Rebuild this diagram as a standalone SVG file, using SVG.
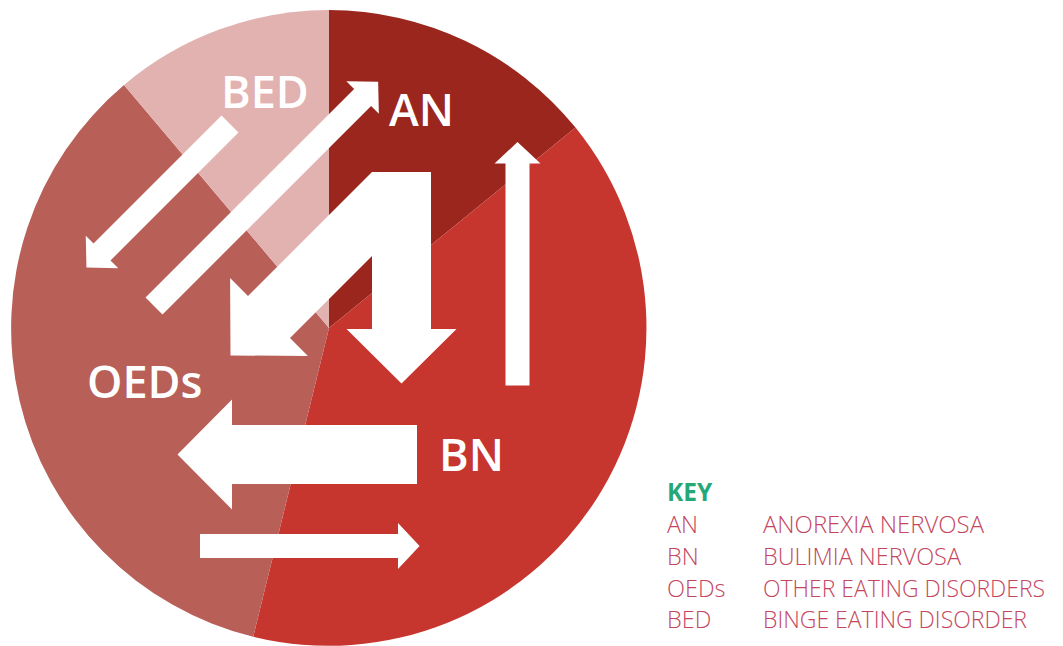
<svg xmlns="http://www.w3.org/2000/svg" width="1063" height="646" viewBox="0 0 1063 646">
<style>
.lbl{font-family:"Open Sans","Liberation Sans",sans-serif;font-weight:600;font-size:45px;fill:#fff}
.key{font-family:"Open Sans","Liberation Sans",sans-serif;font-weight:300;font-size:23.5px;fill:#C4465E}
.keyh{font-family:"Open Sans","Liberation Sans",sans-serif;font-weight:700;font-size:24.5px;fill:#25A878}
.arr{fill:#fff}
</style>
<rect width="1063" height="646" fill="#fff"/>
<g id="AN">
<path d="M329,328 L329,10 A318,318 0 0 1 575.5,127.6 Z" fill="#9A261E"/>
</g>
<g id="BN">
<path d="M329,328 L575.5,127.6 A318,318 0 0 1 253.2,636.8 Z" fill="#C7352F"/>
</g>
<g id="OEDs">
<path d="M329,328 L253.2,636.8 A318,318 0 0 1 124,85 Z" fill="#B85F58"/>
</g>
<g id="BED">
<path d="M329,328 L124,85 A318,318 0 0 1 329,10 Z" fill="#E2B2B1"/>
</g>
<g id="connectors" class="arr">
<polygon points="0,-12 181,-12 181,-23 203,0 181,23 181,12 0,12" transform="translate(230,124) rotate(135)"/>
<polygon points="0,-12 295,-12 295,-23 317,0 295,23 295,12 0,12" transform="translate(154,306) rotate(-45)"/>
<polygon points="0,-12 222,-12 222,-23 243.5,0 222,23 222,12 0,12" transform="translate(517.5,385.5) rotate(-90)"/>
<polygon points="0,-12 198,-12 198,-23 219.6,0 198,23 198,12 0,12" transform="translate(200,546)"/>
<polygon points="417,425 232,425 232,399.5 177.5,454.5 232,509.5 232,484 417,484"/>
<polygon points="372,172 431,172 431,329 456.5,329 401.5,383.5 346.5,329 372,329 372,256 290,338 307.9,355.9 230.5,355.5 230.1,278.1 248,296"/>
</g>
<g id="labels">
<text class="lbl" x="221" y="108">BED</text>
<text class="lbl" x="389" y="126">AN</text>
<text class="lbl" x="87" y="398">OEDs</text>
<text class="lbl" x="439" y="471">BN</text>
</g>
<g id="key">
<text class="keyh" x="667" y="501">KEY</text>
<text class="key" x="667" y="533">AN</text>
<text class="key" x="763" y="533" textLength="221" lengthAdjust="spacingAndGlyphs">ANOREXIA NERVOSA</text>
<text class="key" x="667" y="565">BN</text>
<text class="key" x="763" y="565" textLength="198" lengthAdjust="spacingAndGlyphs">BULIMIA NERVOSA</text>
<text class="key" x="667" y="597">OEDs</text>
<text class="key" x="763" y="597" textLength="282" lengthAdjust="spacingAndGlyphs">OTHER EATING DISORDERS</text>
<text class="key" x="667" y="628">BED</text>
<text class="key" x="763" y="628" textLength="264" lengthAdjust="spacingAndGlyphs">BINGE EATING DISORDER</text>
</g>
</svg>
